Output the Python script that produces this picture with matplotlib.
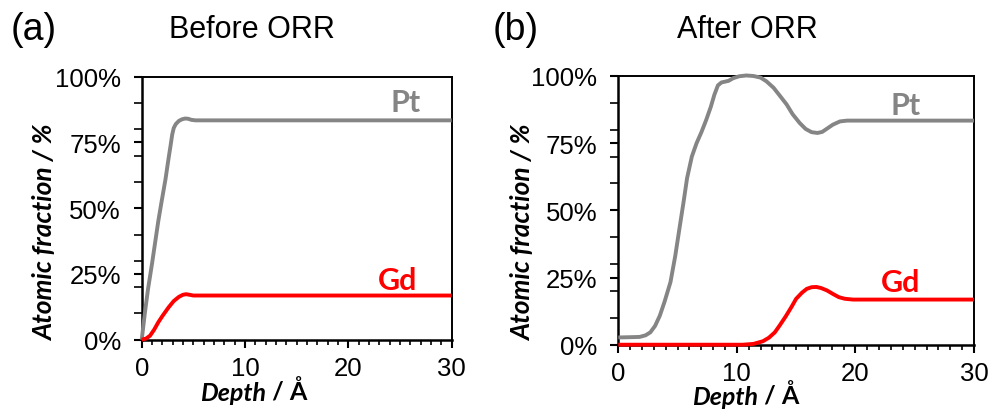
import numpy as np
import matplotlib
matplotlib.use("Agg")
import matplotlib.pyplot as plt
from matplotlib.ticker import MultipleLocator, FixedLocator

# depth profiles (depth in angstrom, atomic fraction in %)
before_depth_pt = [0, 0.3, 0.6, 1.0, 1.3, 1.6, 1.9, 2.3, 2.6, 2.8, 2.95, 3.1, 3.3, 3.6, 3.9, 4.2, 4.5, 4.8, 5.2, 30]
before_pt = [0, 10, 19, 29, 37, 45, 52, 61, 69, 74, 78, 80.5, 82, 83.2, 83.8, 84.1, 84.0, 83.6, 83.4, 83.4]
before_depth_gd = [0, 0.4, 0.8, 1.2, 1.6, 2.0, 2.6, 3.1, 3.6, 4.0, 4.3, 4.6, 5.0, 30]
before_gd = [0, 0.4, 1.5, 3.8, 6.6, 9.0, 12.3, 14.7, 16.3, 17.1, 17.3, 17.1, 16.8, 16.8]

after_depth_pt = [0, 1.0, 1.8, 2.3, 2.7, 3.1, 3.5, 3.9, 4.4, 4.8, 5.2, 5.5, 5.8, 6.2, 6.6, 7.0, 7.4, 7.8, 8.1, 8.4,
                  8.7, 9.0, 9.3, 9.7, 10.2, 10.8, 11.4, 12.0, 12.5, 13.1, 13.6, 14.2, 14.7, 15.3, 15.8, 16.3, 16.8,
                  17.2, 17.6, 18.1, 18.7, 19.3, 20.0, 30]
after_pt = [2.7, 2.8, 2.9, 3.5, 4.6, 7.0, 10.8, 16.0, 23.3, 33.0, 44.5, 53.0, 62.0, 70.0, 75.0, 79.0, 83.5, 88.5, 93.0, 96.5,
            97.6, 97.9, 98.2, 99.2, 99.9, 100.2, 100.0, 99.4, 98.0, 95.6, 92.8, 89.4, 85.8, 82.5, 80.3, 79.1, 78.8,
            79.2, 80.4, 81.9, 83.1, 83.4, 83.4, 83.4]
after_depth_gd = [0, 10.5, 11.4, 12.2, 12.7, 13.2, 13.6, 14.1, 14.6, 15.0, 15.5, 15.9, 16.3, 16.7, 17.1, 17.6,
                  18.1, 18.6, 19.1, 19.8, 30]
after_gd = [0, 0, 0.3, 1.3, 2.6, 4.6, 7.1, 10.4, 14.0, 17.1, 19.4, 20.8, 21.4, 21.5, 21.1, 20.2,
            18.9, 17.7, 17.1, 16.8, 16.8]

panels = [
    ("(a)", "Before ORR", before_depth_pt, before_pt, before_depth_gd, before_gd,
     [0.1433, 0.169, 0.3134, 0.6415], (25.5, 90.4), (24.8, 22.6)),
    ("(b)", "After ORR", after_depth_pt, after_pt, after_depth_gd, after_gd,
     [0.6252, 0.1568, 0.3596, 0.6554], (24.2, 89.3), (23.8, 23.4)),
]

fig = plt.figure(figsize=(9.89, 4.10), dpi=100)

label_font = ["Lato", "DejaVu Sans"]
tick_font = "Liberation Sans"
grey = "#858585"
red = "#ff0000"

for i, (tag, title, dpt, ypt, dgd, ygd, rect, pt_pos, gd_pos) in enumerate(panels):
    ax = fig.add_axes(rect)
    ax.plot(dpt, ypt, color=grey, lw=2.8, solid_capstyle="butt", clip_on=False, zorder=3)
    ax.plot(dgd, ygd, color=red, lw=2.8, solid_capstyle="butt", clip_on=False, zorder=3)
    ax.set_xlim(0, 30)
    ax.set_ylim(0, 100)

    ax.xaxis.set_major_locator(MultipleLocator(10))
    ax.xaxis.set_minor_locator(MultipleLocator(1))
    ax.yaxis.set_major_locator(FixedLocator([0, 25, 50, 75, 100]))
    ax.yaxis.set_minor_locator(FixedLocator([10, 20, 30, 40, 60, 70, 80, 90]))
    ax.set_yticklabels(["0%", "25%", "50%", "75%", "100%"])

    ax.tick_params(axis="x", which="major", direction="out", length=6, width=1.5, pad=6 if i == 0 else 5.5,
                   labelsize=18.5)
    ax.tick_params(axis="x", which="minor", direction="out", length=3.5, width=1.2)
    ax.tick_params(axis="y", which="major", direction="out", length=6, width=1.5, pad=9, labelsize=18.5)
    ax.tick_params(axis="y", which="minor", direction="out", length=6, width=1.2)
    for lab in ax.get_xticklabels() + ax.get_yticklabels():
        lab.set_fontfamily(tick_font)

    for side in ["left", "bottom"]:
        ax.spines[side].set_linewidth(1.8)
    for side in ["top", "right"]:
        ax.spines[side].set_linewidth(1.4)

    ax.text(*pt_pos, "Pt", color=grey, fontsize=22, fontweight="bold", family=label_font,
            ha="center", va="center")
    ax.text(*gd_pos, "Gd", color=red, fontsize=22, fontweight="bold", family=label_font,
            ha="center", va="center")

xl = [(0.269, 0.022), (0.7664, 0.013)]
yl = [(0.0455, 0.432), (0.5288, 0.432)]
ttl = [(0.2548, 0.927), (0.7553, 0.927)]
tags = [(0.0339, 0.927), (0.5217, 0.927)]

for i, (tag, title, *_rest) in enumerate(panels):
    fig.text(*xl[i], "Depth", fontsize=18, fontweight="bold", style="italic", family=label_font,
             ha="right", va="baseline")
    fig.text(*xl[i], " / Å", fontsize=18, fontweight="bold", family=label_font, ha="left", va="baseline")
    fig.text(*yl[i], "Atomic fraction / %", fontsize=19, fontweight="bold", style="italic",
             family=label_font, rotation=90, ha="center", va="center")
    fig.text(*ttl[i], title, fontsize=22, family=tick_font, ha="center", va="center")
    fig.text(*tags[i], tag, fontsize=27, family=tick_font, ha="center", va="center")

fig.savefig("out.png", dpi=100)
